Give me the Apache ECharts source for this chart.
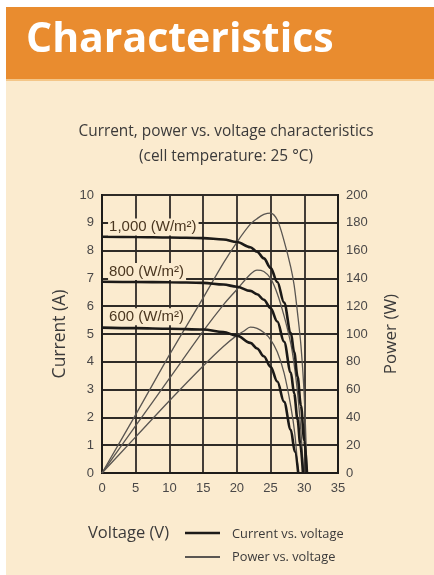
<!DOCTYPE html>
<html>
<head>
<meta charset="utf-8">
<script src="https://cdn.jsdelivr.net/npm/echarts@6/dist/echarts.min.js"></script>
<style>
  html, body { margin: 0; padding: 0; background: #ffffff; }
  #chart { width: 434px; height: 575px; }
</style>
</head>
<body>
<div id="chart"></div>
<script>
// Irradiance levels (W/m²)
const irradianceLabels = ['1,000 (W/m²)', '800 (W/m²)', '600 (W/m²)'];

// Current vs. voltage, one curve per irradiance level
const voltageI1000 = [0, 5, 10, 15, 18, 20, 22, 23, 24, 25, 26, 27, 28, 28.5, 29, 29.5, 30, 30.4];
const current1000  = [8.50, 8.49, 8.47, 8.45, 8.40, 8.31, 8.12, 7.96, 7.72, 7.38, 6.87, 6.13, 5.04, 4.35, 3.47, 2.43, 1.17, 0];

const voltageI800  = [0, 5, 10, 15, 18, 20, 22, 23, 24, 25, 26, 27, 28, 28.5, 29, 29.4, 29.8];
const current800   = [6.88, 6.87, 6.86, 6.84, 6.78, 6.70, 6.55, 6.43, 6.23, 5.93, 5.45, 4.72, 3.61, 2.86, 1.93, 1.04, 0];

const voltageI600  = [0, 5, 10, 15, 18, 20, 22, 23, 24, 25, 26, 27, 28, 28.6, 29.1];
const current600   = [5.23, 5.21, 5.19, 5.16, 5.07, 4.94, 4.68, 4.48, 4.20, 3.82, 3.29, 2.56, 1.55, 0.77, 0];

// Power vs. voltage, one curve per irradiance level
const voltageP1000 = [0, 5, 10, 15, 18, 20, 22, 23, 24, 25, 26, 27, 28, 28.5, 29, 29.5, 30, 30.4];
const power1000    = [0, 42, 85, 126, 151, 166, 179, 183, 186, 187, 182, 167, 148, 135, 115, 92, 55, 0];

const voltageP800  = [0, 5, 10, 15, 18, 20, 22, 23, 24, 25, 26, 27, 28, 28.5, 29, 29.5, 29.9];
const power800     = [0, 34, 68, 102, 121, 132, 143, 146, 145, 140, 129, 113, 93, 78, 58, 30, 0];

const voltageP600  = [0, 5, 10, 15, 18, 20, 21, 22, 23, 24, 25, 26, 27, 28, 28.6, 29.1];
const power600     = [0, 26, 52, 77, 91, 99, 102, 105, 104, 101, 96, 87, 72, 48, 28, 0];

// Axis ticks
const voltageTicks = [0, 5, 10, 15, 20, 25, 30, 35];
const currentTicks = [0, 1, 2, 3, 4, 5, 6, 7, 8, 9, 10];
const powerTicks   = [0, 20, 40, 60, 80, 100, 120, 140, 160, 180, 200];

// Label anchor points (voltage, current) for the irradiance captions
const labelAnchors = [[0.9, 8.85], [0.9, 7.25], [0.9, 5.62]];

const pairs = (xs, ys) => xs.map((x, i) => [x, ys[i]]);

const CREAM = '#fbebcf';
const ORANGE = '#e98c2f';
const TEXT = '#3b3a3a';
const GRID = '#2f2b27';

const currentStyle = { color: '#1c1a18', width: 2.6 };
const powerStyle = { color: '#5a5652', width: 1.3 };

function currentSeries(xs, ys) {
  return {
    type: 'line', xAxisIndex: 0, yAxisIndex: 0, data: pairs(xs, ys),
    smooth: 0.35, smoothMonotone: 'x', showSymbol: false, symbol: 'none',
    lineStyle: currentStyle, z: 4, silent: true
  };
}
function powerSeries(xs, ys) {
  return {
    type: 'line', xAxisIndex: 0, yAxisIndex: 1, data: pairs(xs, ys),
    smooth: 0.3, showSymbol: false, symbol: 'none',
    lineStyle: powerStyle, z: 3, silent: true
  };
}

const chart = echarts.init(document.getElementById('chart'), null, { renderer: 'canvas' });

const axisLabelStyle = { color: '#4a4848', fontFamily: 'Liberation Sans', fontSize: 13 };
const frameLine = { show: true, lineStyle: { color: '#1e1c1a', width: 2 } };

const option = {
  animation: false,
  backgroundColor: '#ffffff',
  grid: { left: 102, right: 96, top: 195, bottom: 102, show: true,
          borderColor: '#1e1c1a', borderWidth: 2, backgroundColor: 'transparent' },
  xAxis: {
    type: 'value', min: 0, max: 35, interval: 5,
    axisLine: frameLine,
    axisTick: { show: false },
    axisLabel: Object.assign({ margin: 9, formatter: v => voltageTicks.includes(v) ? String(v) : '' }, axisLabelStyle),
    splitLine: { show: true, lineStyle: { color: GRID, width: 1.8 } }
  },
  yAxis: [
    {
      type: 'value', min: 0, max: 10, interval: 1, position: 'left',
      axisLine: frameLine,
      axisTick: { show: false },
      axisLabel: Object.assign({ margin: 8, formatter: v => currentTicks.includes(v) ? String(v) : '' }, axisLabelStyle),
      splitLine: { show: true, lineStyle: { color: GRID, width: 1.8 } },
      name: 'Current (A)', nameLocation: 'middle', nameGap: 25, nameRotate: 90,
      nameTextStyle: { color: TEXT, fontFamily: 'Open Sans', fontSize: 17.5 }
    },
    {
      type: 'value', min: 0, max: 200, interval: 20, position: 'right',
      axisLine: frameLine,
      axisTick: { show: false },
      axisLabel: Object.assign({ margin: 8, formatter: v => powerTicks.includes(v) ? String(v) : '' }, axisLabelStyle),
      splitLine: { show: false },
      name: 'Power (W)', nameLocation: 'middle', nameGap: 45, nameRotate: 90,
      nameTextStyle: { color: TEXT, fontFamily: 'Open Sans', fontSize: 17 }
    }
  ],
  series: [
    currentSeries(voltageI1000, current1000),
    currentSeries(voltageI800, current800),
    currentSeries(voltageI600, current600),
    powerSeries(voltageP1000, power1000),
    powerSeries(voltageP800, power800),
    powerSeries(voltageP600, power600)
  ],
  graphic: [
    // page panel and header band
    { type: 'rect', z: -10, shape: { x: 6, y: 7, width: 428, height: 568 }, style: { fill: CREAM } },
    { type: 'rect', z: -9, shape: { x: 6, y: 7, width: 428, height: 72 }, style: { fill: ORANGE } },
    { type: 'rect', z: -9, shape: { x: 6, y: 79, width: 428, height: 2 }, style: { fill: '#f4c688' } },
    { type: 'text', z: 10, x: 26, y: 40, style: {
        text: 'Characteristics', fill: '#ffffff', fontFamily: 'Open Sans', fontWeight: 'bold',
        fontSize: 41, textVerticalAlign: 'middle' } },
    { type: 'text', z: 10, x: 226, y: 132, style: {
        text: 'Current, power vs. voltage characteristics', fill: TEXT, fontFamily: 'Open Sans',
        fontSize: 15.4, textAlign: 'center', textVerticalAlign: 'middle' } },
    { type: 'text', z: 10, x: 226, y: 157, style: {
        text: '(cell temperature: 25 °C)', fill: TEXT, fontFamily: 'Open Sans',
        fontSize: 15.4, textAlign: 'center', textVerticalAlign: 'middle' } },
    // x axis title and legend
    { type: 'text', z: 10, x: 88, y: 533, style: {
        text: 'Voltage (V)', fill: TEXT, fontFamily: 'Open Sans', fontSize: 16.5, textVerticalAlign: 'middle' } },
    { type: 'line', z: 10, shape: { x1: 185, y1: 533, x2: 220, y2: 533 }, style: { stroke: '#1c1a18', lineWidth: 2.6 } },
    { type: 'line', z: 10, shape: { x1: 185, y1: 557, x2: 220, y2: 557 }, style: { stroke: '#5a5652', lineWidth: 2 } },
    { type: 'text', z: 10, x: 232, y: 534, style: {
        text: 'Current vs. voltage', fill: TEXT, fontFamily: 'Open Sans', fontSize: 12.8, textVerticalAlign: 'middle' } },
    { type: 'text', z: 10, x: 232, y: 557, style: {
        text: 'Power vs. voltage', fill: TEXT, fontFamily: 'Open Sans', fontSize: 12.8, textVerticalAlign: 'middle' } }
  ]
};

chart.setOption(option);

// Irradiance captions placed at data coordinates, on a cream patch over the grid
const captionGraphics = irradianceLabels.map((txt, i) => {
  const p = chart.convertToPixel({ xAxisIndex: 0, yAxisIndex: 0 }, labelAnchors[i]);
  return {
    type: 'text', z: 20, x: p[0], y: p[1],
    style: {
      text: txt, fill: '#4a3620', fontFamily: 'Liberation Sans', fontSize: 15,
      textVerticalAlign: 'middle', backgroundColor: CREAM, padding: [1, 2, 1, 1]
    }
  };
});
chart.setOption({ graphic: option.graphic.concat(captionGraphics) });
</script>
</body>
</html>
